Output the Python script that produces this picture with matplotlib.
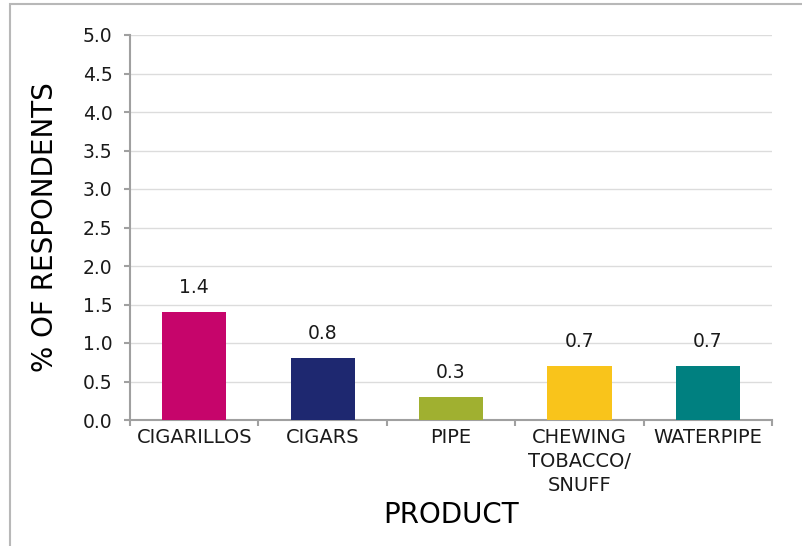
import matplotlib.pyplot as plt
import matplotlib.patches as patches
import numpy as np

products = ["CIGARILLOS", "CIGARS", "PIPE", "CHEWING\nTOBACCO/\nSNUFF", "WATERPIPE"]
values = [1.4, 0.8, 0.3, 0.7, 0.7]
colors = ["#C6056B", "#1E2870", "#A0B030", "#F9C41B", "#008080"]
yticks = [0.0, 0.5, 1.0, 1.5, 2.0, 2.5, 3.0, 3.5, 4.0, 4.5, 5.0]

plt.rcParams['font.family'] = ['DejaVu Sans']

fig = plt.figure(figsize=(8.02, 5.46), dpi=100)
W, H = 802, 546
ax = fig.add_axes([130 / W, 1 - 420 / H, 642 / W, 385 / H])

x = np.arange(len(products))
ax.bar(x, values, width=0.5, color=colors, zorder=3)
for xi, v in zip(x, values):
    ax.annotate(f"{v:.1f}", (xi, v), xytext=(0, 11), textcoords='offset points',
                ha='center', va='bottom', fontsize=13.5, color='#1a1a1a')

ax.set_xlim(-0.5, len(products) - 0.5)
ax.set_ylim(0, 5)
ax.set_yticks(yticks)
ax.set_yticklabels([f"{t:.1f}" for t in yticks], fontsize=13.5, color='#1a1a1a')
ax.set_xticks(x)
ax.set_xticklabels(products, fontsize=14, color='#1a1a1a', linespacing=1.33, va='top')
ax.set_xticks(np.arange(-0.5, len(products)), minor=True)
ax.tick_params(axis='x', which='major', length=0, pad=6)
ax.tick_params(axis='x', which='minor', length=4.5, width=1.5, color='#A0A0A0')
ax.tick_params(axis='y', length=4.5, width=1.5, color='#A0A0A0', pad=8)

ax.grid(axis='y', color='#DCDCDC', linewidth=1, zorder=0)
for s in ['top', 'right']:
    ax.spines[s].set_visible(False)
for s in ['left', 'bottom']:
    ax.spines[s].set_color('#A0A0A0')
    ax.spines[s].set_linewidth(1.5)

ax.set_ylabel("% OF RESPONDENTS", fontsize=20, color='black')
ax.yaxis.set_label_coords(-0.11, 0.5)
ax.set_xlabel("PRODUCT", fontsize=20, color='black')
ax.xaxis.set_label_coords(0.5, -0.21)

fig.patches.append(patches.Rectangle((10 / W, -0.2), 1.2, 1.2 - 4 / H, transform=fig.transFigure,
                                     fill=False, edgecolor='#B8B8B8', linewidth=1.5))

fig.savefig("out.png", dpi=100)
